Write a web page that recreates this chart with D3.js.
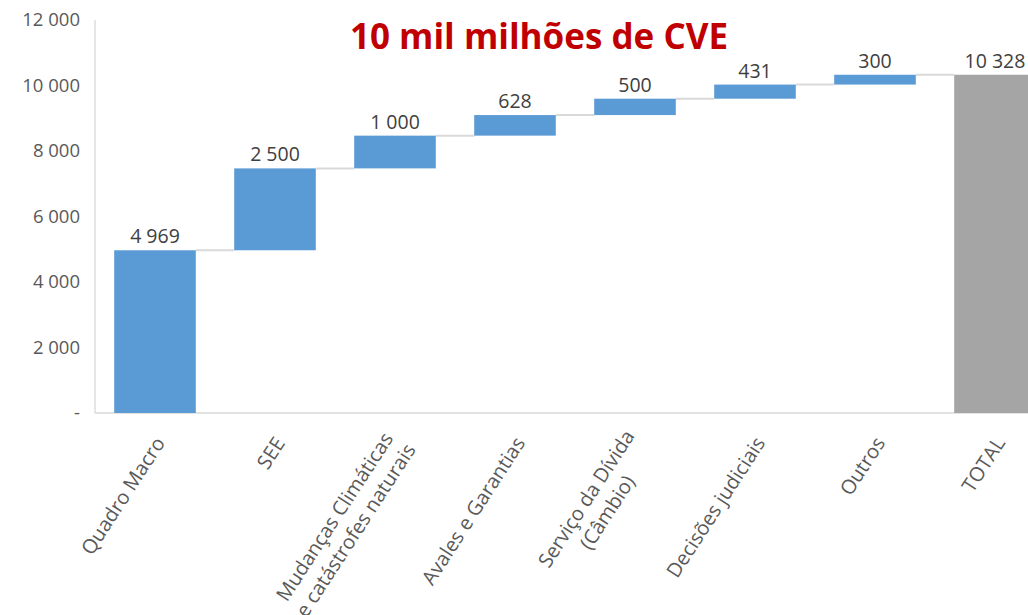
<!DOCTYPE html>
<html>
<head>
<meta charset="utf-8">
<script src="https://cdn.jsdelivr.net/npm/d3@7"></script>
<style>
  body { margin: 0; background: #fff; overflow: hidden; }
  svg { display: block; font-family: 'Open Sans', sans-serif; }
</style>
</head>
<body>
<div id="chart"></div>
<script>
var categories = ['Quadro Macro', 'SEE', 'Mudanças Climáticas\ne catástrofes naturais', 'Avales e Garantias',
                  'Serviço da Dívida\n(Câmbio)', 'Decisões judiciais', 'Outros', 'TOTAL'];
var values = [4969, 2500, 1000, 628, 500, 431, 300, 10328];
var yTicks = [0, 2000, 4000, 6000, 8000, 10000, 12000];
var title = '10 mil milhões de CVE';

var width = 1028, height = 615;
var margin = {top: 20, left: 95, bottom: 413};

var svg = d3.select('#chart').append('svg')
    .attr('width', width)
    .attr('height', height);

var fmt = function(v) {
  if (v === 0) return '-';
  return d3.format(',')(v).replace(/,/g, ' ');
};

// running totals for the waterfall
var data = [], run = 0;
categories.forEach(function(c, i) {
  var isTotal = i === categories.length - 1;
  var start = isTotal ? 0 : run;
  var end = isTotal ? values[i] : run + values[i];
  if (!isTotal) run = end;
  data.push({name: c, value: values[i], start: start, end: end, total: isTotal});
});

var xScale = d3.scaleBand()
    .domain(categories)
    .range([margin.left, margin.left + 120 * categories.length])
    .paddingInner(0.32)
    .paddingOuter(0.16);

var yScale = d3.scaleLinear()
    .domain([0, 12000])
    .range([margin.bottom, margin.top]);

// axes lines
svg.append('line')
    .attr('x1', margin.left).attr('x2', margin.left)
    .attr('y1', yScale(12000)).attr('y2', yScale(0))
    .style('stroke', '#d9d9d9').style('stroke-width', 1.3);

svg.append('line')
    .attr('x1', margin.left).attr('x2', width)
    .attr('y1', yScale(0)).attr('y2', yScale(0))
    .style('stroke', '#d9d9d9').style('stroke-width', 1.3);

// y tick labels
var yAxis = svg.append('g')
    .attr('transform', 'translate(' + (margin.left - 15) + ',0)')
    .call(d3.axisLeft(yScale).tickValues(yTicks).tickSize(0).tickPadding(0).tickFormat(fmt));
yAxis.select('.domain').remove();
yAxis.selectAll('text')
    .style('font-family', "'Open Sans', sans-serif")
    .style('font-size', '18.5px')
    .style('fill', '#595959');

// connectors
var connectors = data.slice(0, -1);
svg.selectAll('.connector')
    .data(connectors)
  .enter().append('line')
    .attr('class', 'connector')
    .attr('x1', function(d) { return xScale(d.name) + xScale.bandwidth(); })
    .attr('x2', function(d, i) { return xScale(categories[i + 1]); })
    .attr('y1', function(d) { return yScale(d.end); })
    .attr('y2', function(d) { return yScale(d.end); })
    .style('stroke', '#d9d9d9')
    .style('stroke-width', 2);

// bars
svg.selectAll('.bar')
    .data(data)
  .enter().append('rect')
    .attr('class', 'bar')
    .attr('x', function(d) { return xScale(d.name); })
    .attr('width', xScale.bandwidth())
    .attr('y', function(d) { return yScale(d.end); })
    .attr('height', function(d) { return yScale(d.start) - yScale(d.end); })
    .style('fill', function(d) { return d.total ? '#a5a5a5' : '#5b9bd5'; });

// value labels
svg.selectAll('.vlabel')
    .data(data)
  .enter().append('text')
    .attr('class', 'vlabel')
    .attr('x', function(d) { return xScale(d.name) + xScale.bandwidth() / 2; })
    .attr('y', function(d) { return yScale(d.end) - 7; })
    .style('text-anchor', 'middle')
    .style('font-size', '19.5px')
    .style('fill', '#404040')
    .text(function(d) { return fmt(d.value); });

// rotated category labels
var lh = 25;
var xl = svg.selectAll('.xlabel')
    .data(data)
  .enter().append('g')
    .attr('class', 'xlabel')
    .attr('transform', function(d) {
      return 'translate(' + (xScale(d.name) + xScale.bandwidth() / 2 + 5) + ',' + (yScale(0) + 26) + ') rotate(-57)';
    });

xl.each(function(d) {
  var g = d3.select(this);
  var lines = d.name.split('\n');
  var texts = lines.map(function(l, i) {
    return g.append('text')
        .attr('y', (i - (lines.length - 1) / 2) * lh)
        .attr('dy', '0.35em')
        .style('text-anchor', 'middle')
        .style('font-size', '20px')
        .style('fill', '#595959')
        .text(l);
  });
  var maxLen = d3.max(texts, function(t) { return t.node().getComputedTextLength(); });
  texts.forEach(function(t) { t.attr('x', -maxLen / 2); });
});

// title
svg.append('text')
    .attr('x', 539)
    .attr('y', 49)
    .style('text-anchor', 'middle')
    .style('font-weight', 'bold')
    .style('font-size', '35px')
    .style('fill', '#c00000')
    .text(title);
</script>
</body>
</html>
